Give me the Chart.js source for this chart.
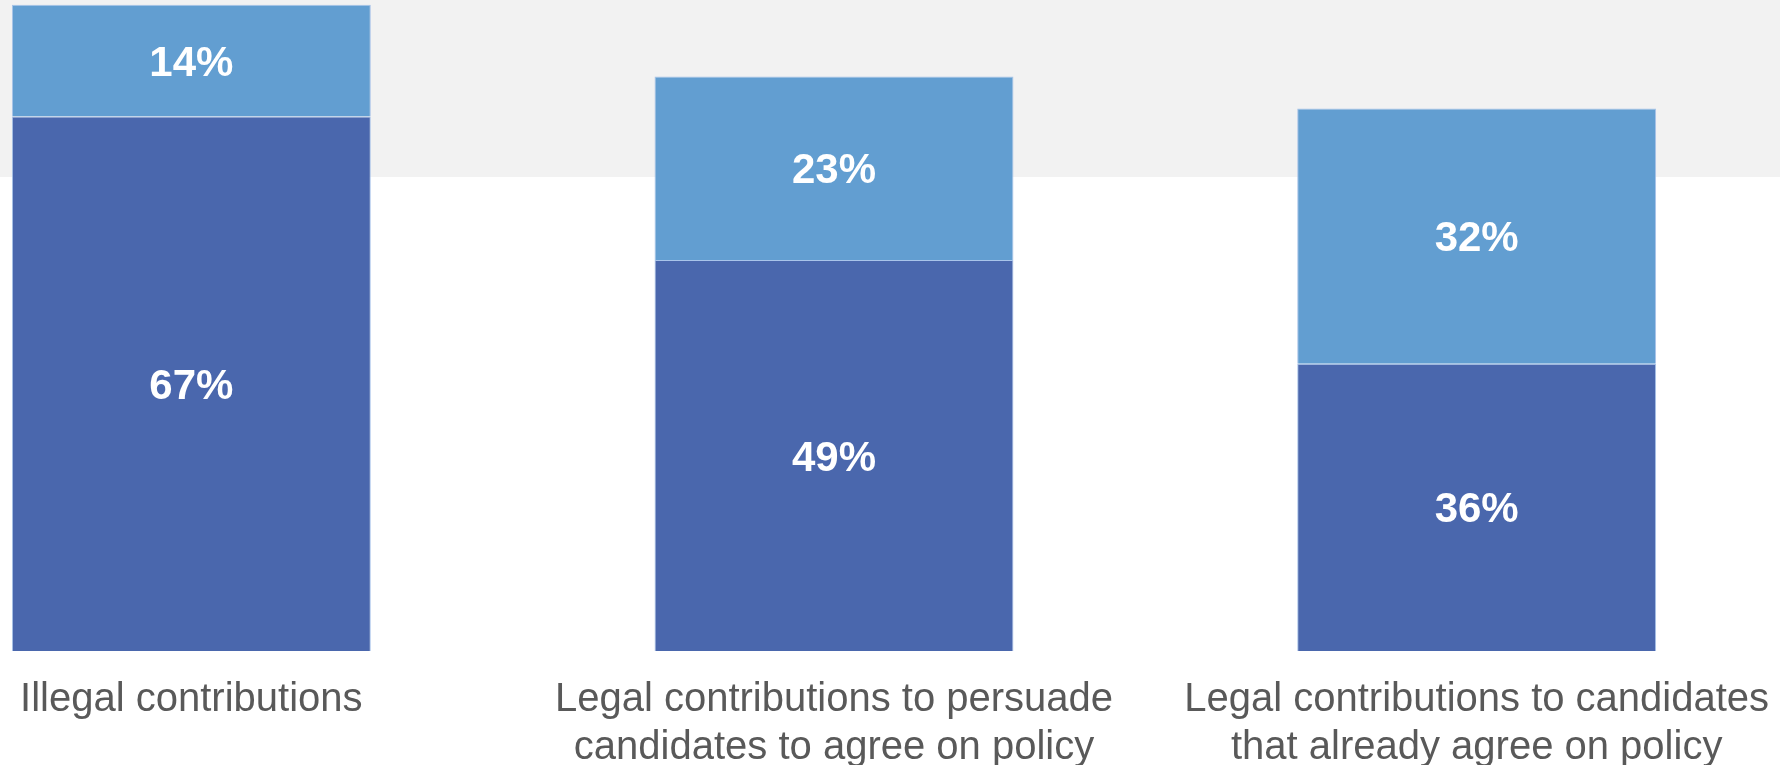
<!DOCTYPE html>
<html>
<head>
<meta charset="utf-8">
<script src="https://cdn.jsdelivr.net/npm/chart.js@4"></script>
<style>
  html, body { margin: 0; padding: 0; background: #ffffff; overflow: hidden; }
  body { width: 1780px; height: 765px; position: relative; }
  #band { position: absolute; left: 0; top: 0; width: 1780px; height: 177px; background: #f2f2f2; }
  #wrap { position: absolute; left: -130px; top: 0; width: 1928px; height: 797px; }
</style>
</head>
<body>
<div id="band"></div>
<div id="wrap"><canvas id="barCanvas"></canvas></div>
<script>
// categories (wrapped the same way as the original slide)
var categories = [
    ["Illegal contributions"],
    ["Legal contributions to persuade", "candidates to agree on policy"],
    ["Legal contributions to candidates", "that already agree on policy"]
];
var bottomValues = [67, 49, 36];
var topValues = [14, 23, 32];

// white percent labels in the middle of each segment
var segmentLabels = {
    id: "segmentLabels",
    afterDatasetsDraw: function(chart) {
        var ctx = chart.ctx;
        ctx.save();
        ctx.fillStyle = "#ffffff";
        ctx.font = "bold 42px 'Liberation Sans', Arial, sans-serif";
        ctx.textAlign = "center";
        ctx.textBaseline = "alphabetic";
        chart.data.datasets.forEach(function(ds, i) {
            var meta = chart.getDatasetMeta(i);
            meta.data.forEach(function(bar, j) {
                var p = bar.getProps(["x", "y", "base"], true);
                var mid = (p.y + p.base) / 2;
                ctx.fillText(ds.data[j] + "%", p.x, mid + 15);
            });
        });
        ctx.restore();
    }
};

var ctx1 = document.getElementById("barCanvas");
var chart1 = new Chart(ctx1, {
    type: "bar",
    data: {
        labels: categories,
        datasets: [
        {
            label: "bottom",
            data: bottomValues,
            backgroundColor: "#4a67ad",
            borderColor: "rgba(160,190,232,0.9)",
            borderWidth: 1,
            categoryPercentage: 1,
            barPercentage: 0.5585
        },
        {
            label: "top",
            data: topValues,
            backgroundColor: "#629ed1",
            borderColor: "rgba(160,190,232,0.9)",
            borderWidth: 1,
            categoryPercentage: 1,
            barPercentage: 0.5585
        }
        ]
    },
    options: {
        responsive: true,
        maintainAspectRatio: false,
        animation: false,
        layout: { padding: 0 },
        plugins: {
            legend: { display: false },
            tooltip: { enabled: false }
        },
        scales: {
            x: {
                stacked: true,
                grid: { display: false, drawTicks: false },
                border: { display: false },
                ticks: {
                    color: "#595959",
                    padding: 25,
                    maxRotation: 0,
                    autoSkip: false,
                    font: { family: "'Liberation Sans', Arial, sans-serif", size: 40, lineHeight: 1.2 }
                }
            },
            y: {
                stacked: true,
                display: false,
                min: 0,
                max: 81.6
            }
        }
    },
    plugins: [segmentLabels]
});
</script>
</body>
</html>
